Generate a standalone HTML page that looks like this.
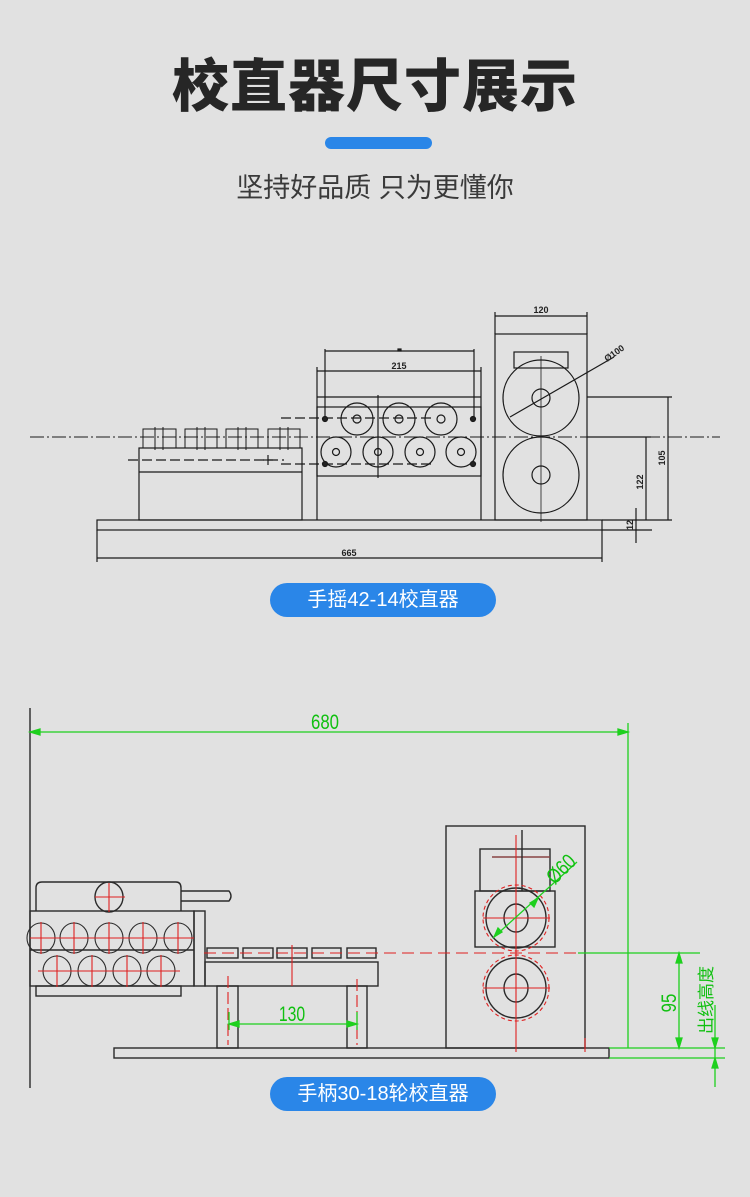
<!DOCTYPE html>
<html><head><meta charset="utf-8"><style>
body{margin:0;background:#e1e1e1;width:750px;height:1197px;overflow:hidden;position:relative;font-family:"Liberation Sans","Noto Sans CJK SC",sans-serif}
.t{position:absolute;left:0;width:750px;text-align:center;top:54px;font-size:57px;line-height:66px;font-weight:900;color:#262626;letter-spacing:1px}
.bar{position:absolute;left:325px;top:137px;width:107px;height:12px;border-radius:6px;background:#2a86e8}
.s{position:absolute;left:0;width:750px;text-align:center;top:171px;font-size:27px;line-height:34px;color:#3a3a3a}
.p{position:absolute;left:270px;width:226px;height:34px;border-radius:17px;background:#2a86e8;color:#fff;font-size:20px;text-align:center;line-height:34px}
svg{position:absolute;left:0;top:0}
</style></head><body>
<div class="t">校直器尺寸展示</div>
<div class="bar"></div>
<div class="s">坚持好品质 只为更懂你</div>
<svg width="750" height="1197" viewBox="0 0 750 1197" font-family="Liberation Sans Narrow, Liberation Sans, sans-serif">
<g stroke="#1a1a1a" fill="none" stroke-width="1.2">
<line x1="30" y1="437" x2="720" y2="437" stroke-dasharray="14,3,2,3" stroke-width="1"/>
<rect x="97" y="520" width="505" height="10"/>
<rect x="139" y="448" width="163" height="72"/><line x1="139" y1="472" x2="302" y2="472"/>
<g stroke-width="1">
<rect x="143" y="429" width="33" height="19"/><rect x="185" y="429" width="32" height="19"/><rect x="226" y="429" width="32" height="19"/><rect x="268" y="429" width="32" height="19"/>
<line x1="155" y1="427" x2="155" y2="450"/><line x1="163" y1="427" x2="163" y2="450"/><line x1="197" y1="427" x2="197" y2="450"/><line x1="205" y1="427" x2="205" y2="450"/><line x1="238" y1="427" x2="238" y2="450"/><line x1="246" y1="427" x2="246" y2="450"/><line x1="280" y1="427" x2="280" y2="450"/><line x1="288" y1="427" x2="288" y2="450"/>
</g>
<line x1="128" y1="460" x2="284" y2="460" stroke-dasharray="10,4"/>
<line x1="268" y1="455" x2="268" y2="465"/><line x1="263" y1="460" x2="273" y2="460"/>
<line x1="281" y1="418" x2="431" y2="418" stroke-dasharray="10,4"/>
<line x1="281" y1="464" x2="435" y2="464" stroke-dasharray="10,4"/>
<line x1="317" y1="367" x2="317" y2="520"/><line x1="481" y1="367" x2="481" y2="520"/>
<line x1="317" y1="397" x2="481" y2="397"/>
<rect x="317" y="407" width="164" height="69"/>
<line x1="325" y1="349" x2="325" y2="420"/><line x1="474" y1="349" x2="474" y2="420"/>
<line x1="325" y1="351" x2="474" y2="351"/><rect x="398" y="349" width="3" height="2" fill="#222"/>
<line x1="317" y1="371" x2="481" y2="371"/>
<line x1="378" y1="395" x2="378" y2="478"/>
<circle cx="357" cy="419" r="16"/><circle cx="399" cy="419" r="16"/><circle cx="441" cy="419" r="16"/>
<circle cx="357" cy="419" r="4"/><circle cx="399" cy="419" r="4"/><circle cx="441" cy="419" r="4"/>
<circle cx="336" cy="452" r="15"/><circle cx="378" cy="452" r="15"/><circle cx="420" cy="452" r="15"/><circle cx="461" cy="452" r="15"/>
<circle cx="336" cy="452" r="3.5"/><circle cx="378" cy="452" r="3.5"/><circle cx="420" cy="452" r="3.5"/><circle cx="461" cy="452" r="3.5"/>
<circle cx="325" cy="419" r="2.5" fill="#222"/><circle cx="473" cy="419" r="2.5" fill="#222"/><circle cx="325" cy="464" r="2.5" fill="#222"/><circle cx="473" cy="464" r="2.5" fill="#222"/>
<rect x="495" y="334" width="92" height="186"/>
<rect x="514" y="352" width="54" height="16"/>
<circle cx="541" cy="398" r="38"/><circle cx="541" cy="475" r="38"/>
<circle cx="541" cy="398" r="9"/><circle cx="541" cy="475" r="9"/>
<line x1="541" y1="356" x2="541" y2="522" stroke-width="0.8"/>
<line x1="495" y1="312" x2="495" y2="334"/><line x1="587" y1="312" x2="587" y2="334"/><line x1="495" y1="316" x2="587" y2="316"/>
<line x1="510" y1="417" x2="614" y2="357"/>
<line x1="587" y1="397" x2="672" y2="397"/><line x1="668" y1="397" x2="668" y2="520"/>
<line x1="587" y1="437" x2="651" y2="437"/><line x1="646" y1="437" x2="646" y2="520"/>
<line x1="602" y1="520" x2="672" y2="520"/><line x1="602" y1="530" x2="652" y2="530"/>
<line x1="636" y1="508" x2="636" y2="543"/>
<line x1="97" y1="530" x2="97" y2="562"/><line x1="602" y1="530" x2="602" y2="562"/><line x1="97" y1="558" x2="602" y2="558"/>
</g>
<g font-size="9" fill="#222" font-weight="bold">
<text x="541" y="313" text-anchor="middle">120</text>
<text x="399" y="369" text-anchor="middle">215</text>
<text x="349" y="556" text-anchor="middle">665</text>
<text transform="translate(607,362) rotate(-35)">Ø100</text>
<text transform="translate(665,458) rotate(-90)" text-anchor="middle">105</text>
<text transform="translate(643,482) rotate(-90)" text-anchor="middle">122</text>
<text transform="translate(633,525) rotate(-90)" text-anchor="middle">12</text>
</g>
<g stroke="#2a2a2a" fill="none" stroke-width="1.4">
<line x1="30" y1="708" x2="30" y2="1088"/>
<rect x="114" y="1048" width="495" height="10"/>
<rect x="446" y="826" width="139" height="222"/>
<rect x="480" y="849" width="70" height="42"/>
<rect x="475" y="891" width="80" height="56"/>
<circle cx="516" cy="918" r="30"/><circle cx="516" cy="988" r="30"/>
<ellipse cx="516" cy="918" rx="12" ry="14"/><ellipse cx="516" cy="988" rx="12" ry="14"/>
<line x1="492" y1="857" x2="550" y2="857" stroke="#844"/>
<line x1="522" y1="830" x2="522" y2="891"/>
<path d="M36 911 V888 Q36 882 42 882 H176 Q181 882 181 888 V911"/>
<path d="M181 891 H229 Q233 896 229 901 H181"/>
<ellipse cx="109" cy="897" rx="14" ry="15"/>
<rect x="30" y="911" width="164" height="75"/>
<line x1="30" y1="950" x2="194" y2="950"/>
<rect x="36" y="986" width="145" height="10"/>
<rect x="194" y="911" width="11" height="75"/>
<g stroke-width="1.1">
<ellipse cx="41" cy="938" rx="14" ry="15"/><ellipse cx="74" cy="938" rx="14" ry="15"/><ellipse cx="109" cy="938" rx="14" ry="15"/><ellipse cx="143" cy="938" rx="14" ry="15"/><ellipse cx="178" cy="938" rx="14" ry="15"/>
<ellipse cx="57" cy="971" rx="14" ry="15"/><ellipse cx="92" cy="971" rx="14" ry="15"/><ellipse cx="127" cy="971" rx="14" ry="15"/><ellipse cx="161" cy="971" rx="14" ry="15"/>
</g>
<rect x="205" y="962" width="173" height="24"/>
<rect x="207" y="948" width="31" height="10"/><rect x="243" y="948" width="30" height="10"/><rect x="277" y="948" width="30" height="10"/><rect x="312" y="948" width="29" height="10"/><rect x="347" y="948" width="29" height="10"/>
<rect x="217" y="986" width="21" height="62"/><rect x="347" y="986" width="20" height="62"/>
</g>
<g stroke="#e02020" fill="none" stroke-width="1.1">
<line x1="204" y1="953" x2="578" y2="953" stroke-dasharray="12,6"/>
<line x1="516" y1="835" x2="516" y2="1052"/>
<line x1="483" y1="918" x2="550" y2="918"/><line x1="483" y1="988" x2="550" y2="988"/>
<circle cx="516" cy="918" r="33" stroke-dasharray="4,3"/><circle cx="516" cy="988" r="33" stroke-dasharray="4,3"/>
<line x1="30" y1="938" x2="194" y2="938"/><line x1="38" y1="971" x2="180" y2="971"/>
<line x1="41" y1="922" x2="41" y2="954"/><line x1="74" y1="922" x2="74" y2="954"/><line x1="109" y1="922" x2="109" y2="954"/><line x1="143" y1="922" x2="143" y2="954"/><line x1="178" y1="922" x2="178" y2="954"/>
<line x1="57" y1="955" x2="57" y2="987"/><line x1="92" y1="955" x2="92" y2="987"/><line x1="127" y1="955" x2="127" y2="987"/><line x1="161" y1="955" x2="161" y2="987"/>
<line x1="95" y1="897" x2="125" y2="897"/><line x1="109" y1="883" x2="109" y2="912"/>
<line x1="292" y1="945" x2="292" y2="986"/>
<line x1="228" y1="976" x2="228" y2="1045" stroke-dasharray="12,4"/><line x1="357" y1="979" x2="357" y2="1045" stroke-dasharray="12,4"/>
<line x1="585" y1="1038" x2="585" y2="1052"/>
</g>
<g stroke="#1ed01e" fill="#1ed01e" stroke-width="1.3">
<line x1="30" y1="732" x2="628" y2="732"/><path d="M30 732 l10 -3 v6z M628 732 l-10 -3 v6z"/>
<line x1="628" y1="723" x2="628" y2="1048" fill="none"/>
<line x1="578" y1="953" x2="700" y2="953"/>
<line x1="609" y1="1048" x2="725" y2="1048"/><line x1="609" y1="1058" x2="725" y2="1058"/>
<line x1="679" y1="953" x2="679" y2="1048"/><path d="M679 953 l-3 10 h6z M679 1048 l-3 -10 h6z"/>
<line x1="715" y1="1005" x2="715" y2="1087"/><path d="M715 1048 l-3 -10 h6z M715 1058 l-3 10 h6z"/>
<line x1="229" y1="1024" x2="357" y2="1024"/><path d="M229 1024 l10 -3 v6z M357 1024 l-10 -3 v6z"/>
<line x1="229" y1="1012" x2="229" y2="1030"/><line x1="357" y1="1012" x2="357" y2="1030"/>
<line x1="494" y1="937" x2="577" y2="862"/><path d="M494 937 l4 -9 l4 4z M538 898 l-4 9 l-4 -4z"/>
</g>
<g fill="#10c010" font-size="21" stroke="none">
<text x="0" y="0" transform="translate(325,729) scale(0.8,1)" text-anchor="middle">680</text>
<text x="0" y="0" transform="translate(292,1021) scale(0.75,1)" text-anchor="middle">130</text>
<text transform="translate(566,874) rotate(-45) scale(0.8,1)" text-anchor="middle">Ø60</text>
<text transform="translate(676,1003) rotate(-90) scale(0.8,1)" text-anchor="middle">95</text>
<text transform="translate(712,1000) rotate(-90)" text-anchor="middle" font-size="17" font-family="Noto Sans CJK SC, sans-serif">出线高度</text>
</g>
</svg>
<div class="p" style="top:583px">手摇42-14校直器</div>
<div class="p" style="top:1077px">手柄30-18轮校直器</div>
</body></html>
